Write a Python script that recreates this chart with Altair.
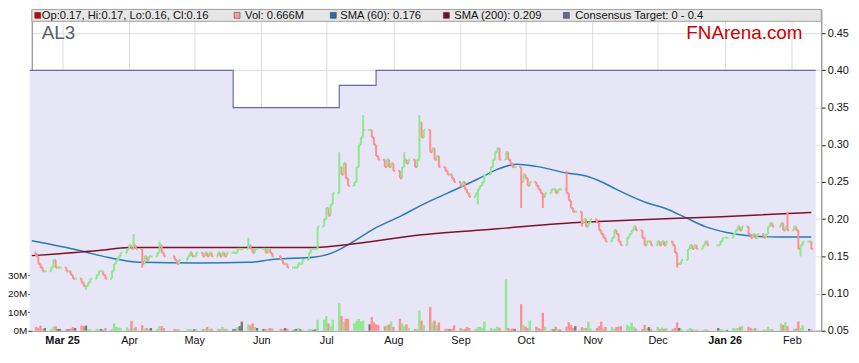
import altair as alt
import pandas as pd

# ---------------- data ----------------
HOLIDAYS = ["2025-04-18", "2025-04-21", "2025-04-25", "2025-06-09",
            "2025-12-25", "2025-12-26", "2026-01-01", "2026-01-26"]

FIRST_OPEN = 0.155
CLOSES = [
    0.15, 0.14, 0.135, 0.13, 0.13,
    0.135, 0.145, 0.135, 0.135, 0.135,
    0.13, 0.13, 0.125, 0.12, 0.12,
    0.115, 0.11, 0.11, 0.115, 0.12,
    0.125, 0.13, 0.13, 0.125, 0.12,
    0.13, 0.14, 0.145, 0.15, 0.155,
    0.16, 0.165, 0.16, 0.165, 0.16,
    0.14, 0.15, 0.145, 0.15, 0.15,
    0.155, 0.165, 0.155, 0.15,
    0.145, 0.14, 0.145,
    0.15, 0.155, 0.15, 0.15, 0.155,
    0.15, 0.155, 0.15, 0.155, 0.15,
    0.155, 0.15, 0.155, 0.15, 0.155,
    0.155, 0.155, 0.16, 0.16, 0.16,
    0.165, 0.16, 0.155, 0.16, 0.16,
    0.16, 0.155, 0.16, 0.155, 0.15,
    0.145, 0.14, 0.14, 0.135,
    0.135, 0.135, 0.14, 0.14, 0.145,
    0.155, 0.16, 0.16, 0.16, 0.19,
    0.2, 0.215, 0.205, 0.22, 0.235,
    0.27, 0.26, 0.275, 0.255, 0.245,
    0.25, 0.27, 0.30, 0.31, 0.32,
    0.32, 0.31, 0.30, 0.285, 0.28,
    0.27, 0.28, 0.27, 0.275, 0.265,
    0.255, 0.27, 0.28, 0.275, 0.28,
    0.27, 0.28, 0.33, 0.31, 0.32,
    0.29, 0.295, 0.28, 0.285, 0.27,
    0.265, 0.26, 0.26, 0.255, 0.25,
    0.245, 0.25, 0.24, 0.235, 0.23,
    0.235, 0.24, 0.245, 0.25, 0.26,
    0.27, 0.28, 0.29, 0.295, 0.28,
    0.29, 0.28, 0.275, 0.27, 0.27,
    0.25, 0.26, 0.255, 0.245, 0.25,
    0.245, 0.24, 0.235, 0.23, 0.235,
    0.24, 0.24, 0.235, 0.24, 0.24,
    0.235, 0.225, 0.215, 0.21, 0.21,
    0.195, 0.2, 0.19, 0.195, 0.2,
    0.195, 0.185, 0.18, 0.175, 0.17,
    0.175, 0.185, 0.18, 0.17, 0.165,
    0.175, 0.18, 0.185, 0.19, 0.185,
    0.175, 0.165, 0.17, 0.17, 0.165,
    0.17, 0.165, 0.17, 0.165, 0.17,
    0.165, 0.155, 0.14, 0.14, 0.145,
    0.16, 0.165, 0.16, 0.165, 0.16,
    0.165, 0.17, 0.165,
    0.165, 0.17, 0.175, 0.175,
    0.18, 0.185, 0.19, 0.185, 0.19,
    0.18, 0.175, 0.18, 0.175, 0.18,
    0.175, 0.18, 0.19, 0.195, 0.19,
    0.195, 0.185, 0.19, 0.185,
    0.19, 0.185, 0.16, 0.165, 0.17,
    0.17, 0.16,
]

# volume in millions of shares
VOLUMES = [
    2.0, 1.5, 2.8, 0.8, 1.5,
    1.0, 2.2, 2.5, 1.0, 1.0,
    1.0, 0.8, 1.2, 2.0, 1.5,
    2.8, 2.5, 2.8, 1.0, 0.8,
    1.0, 0.8, 1.0, 0.5, 1.5,
    1.0, 4.0, 2.0, 1.8, 1.5,
    1.8, 1.0, 5.4, 1.5, 2.0,
    3.0, 1.0, 1.5, 1.0, 1.5,
    1.0, 2.5, 2.5, 1.5,
    1.0, 0.8, 0.8,
    0.8, 1.0, 0.5, 0.8, 1.0,
    1.0, 1.0, 2.0, 1.0, 1.2,
    1.0, 0.8, 2.0, 1.0, 1.0,
    0.8, 1.0, 2.0, 2.5, 5.0,
    3.5, 3.0, 4.0, 2.0, 1.5,
    1.0, 0.8, 1.0, 1.5, 1.2,
    1.0, 0.8, 1.5, 1.0,
    0.5, 1.0, 1.5, 0.8, 0.5,
    1.0, 0.8, 0.5, 0.8, 6.0,
    6.0, 8.0, 4.0, 2.5, 6.0,
    15.0, 8.0, 5.0, 6.5, 6.5,
    4.0, 5.5, 6.5, 5.0, 5.5,
    3.5, 7.5, 4.5, 3.5, 3.0,
    2.5, 3.0, 3.5, 5.0, 2.0,
    6.5, 4.0, 2.5, 3.5, 1.5,
    1.0, 1.0, 11.0, 5.5, 3.0,
    13.0, 4.5, 5.5, 3.0, 4.5,
    1.0, 1.0, 0.8, 1.0, 3.0,
    1.5, 0.8, 1.0, 2.0, 1.5,
    1.0, 2.0, 2.2, 1.5, 5.0,
    1.5, 0.8, 1.2, 2.2, 1.6,
    28.0, 1.5, 0.8, 1.2, 1.0,
    14.5, 3.2, 2.2, 1.5, 5.5,
    2.2, 1.5, 1.0, 9.7, 2.2,
    1.0, 0.8, 2.2, 1.0, 0.5,
    2.2, 4.7, 3.0, 1.5, 2.5,
    2.0, 1.5, 1.5, 5.0, 1.2,
    1.5, 2.5, 5.0, 1.0, 2.0,
    2.0, 1.0, 2.0, 2.2, 2.5,
    3.2, 2.2, 4.5, 2.2, 1.2,
    1.0, 3.2, 1.5, 2.0, 1.0,
    2.0, 1.0, 1.8, 1.0, 1.5,
    1.0, 1.5, 4.5, 1.5, 1.0,
    0.8, 1.5, 0.8, 0.5, 0.5,
    0.5, 0.8, 0.5,
    1.5, 1.0, 0.8, 0.5,
    1.5, 1.2, 1.5, 2.2, 2.5,
    2.2, 1.5, 1.0, 1.5, 0.8,
    0.5, 0.5, 2.2, 1.0, 0.8,
    4.0, 3.2, 4.7, 2.5,
    1.0, 1.2, 5.0, 1.5, 3.0,
    1.0, 0.666,
]

HIGH_WICKS = {"2025-04-03": 0.18, "2025-04-15": 0.17, "2025-05-26": 0.175,
              "2025-07-07": 0.29, "2025-07-18": 0.34, "2025-08-06": 0.29,
              "2025-08-13": 0.34, "2025-10-20": 0.265, "2026-01-30": 0.21}
LOW_WICKS = {"2025-03-12": 0.105, "2025-04-07": 0.135, "2025-09-09": 0.22,
             "2025-09-29": 0.215, "2025-10-09": 0.215, "2025-10-27": 0.19,
             "2025-12-10": 0.135, "2026-02-05": 0.15}

SMA60_DATES = ["2025-02-15", "2025-03-09", "2025-03-23", "2025-04-06", "2025-05-03",
               "2025-05-26", "2025-06-07", "2025-06-26", "2025-07-04", "2025-07-13",
               "2025-07-23", "2025-08-05", "2025-08-14", "2025-08-26", "2025-09-09",
               "2025-09-18", "2025-09-27", "2025-10-06", "2025-10-20", "2025-10-29",
               "2025-11-06", "2025-11-12", "2025-11-26", "2025-12-05", "2025-12-14",
               "2025-12-23", "2026-01-02", "2026-01-11", "2026-01-26", "2026-02-10"]
SMA60_VALUES = [0.171, 0.158, 0.148, 0.142, 0.141,
                0.142, 0.146, 0.149, 0.155, 0.169,
                0.187, 0.205, 0.219, 0.235, 0.254,
                0.267, 0.274, 0.271, 0.262, 0.258,
                0.249, 0.240, 0.222, 0.214, 0.202,
                0.190, 0.182, 0.178, 0.176, 0.176]

SMA200_DATES = ["2025-02-15", "2025-03-18", "2025-04-01", "2025-05-03", "2025-06-26",
                "2025-07-14", "2025-08-14", "2025-09-18", "2025-10-16", "2025-11-12",
                "2025-12-28", "2026-02-10"]
SMA200_VALUES = [0.151, 0.158, 0.162, 0.162, 0.162,
                 0.167, 0.179, 0.187, 0.194, 0.198,
                 0.203, 0.209]

TARGET_DATES = ["2025-02-14", "2025-05-19", "2025-07-07", "2025-07-24", "2026-02-12"]
TARGET_VALUES = [0.40, 0.35, 0.38, 0.40, 0.40]

PRICE_TICKS = [0.05, 0.10, 0.15, 0.20, 0.25, 0.30, 0.35, 0.40, 0.45]
VOL_TICKS = [0, 10, 20, 30]
MONTHS = [(2025, m) for m in range(3, 13)] + [(2026, 1), (2026, 2)]

HEADER_ITEMS = [
    ("Op:0.17, Hi:0.17, Lo:0.16, Cl:0.16", "#cc0000"),
    ("Vol: 0.666M", "#ff9999"),
    ("SMA (60): 0.176", "#1f6fb0"),
    ("SMA (200): 0.209", "#7a0a2a"),
    ("Consensus Target: 0 - 0.4", "#666699"),
]

# ---------------- tables ----------------
days = [d for d in pd.bdate_range("2025-02-17", "2026-02-10")
        if d.strftime("%Y-%m-%d") not in HOLIDAYS]
assert len(days) == len(CLOSES) == len(VOLUMES)
opens = [FIRST_OPEN] + CLOSES[:-1]
rows = []
for d, o, c, v in zip(days, opens, CLOSES, VOLUMES):
    k = d.strftime("%Y-%m-%d")
    hi = max(o, c, HIGH_WICKS.get(k, 0))
    lo = min(o, c, LOW_WICKS.get(k, 1))
    vdir = "up" if c > o else ("down" if c < o else "flat")
    rows.append({"date": d, "open": o, "close": c, "high": hi, "low": lo,
                 "vol": v, "vdir": vdir, "pdir": "down" if c < o else "up"})
ohlc = pd.DataFrame(rows)

sma60 = pd.DataFrame({"date": pd.to_datetime(SMA60_DATES), "v": SMA60_VALUES})
sma200 = pd.DataFrame({"date": pd.to_datetime(SMA200_DATES), "v": SMA200_VALUES})
target = pd.DataFrame({"date": pd.to_datetime(TARGET_DATES), "v": TARGET_VALUES})

# ---------------- scales ----------------
W, H = 796, 324
FONT = "Liberation Sans"
xscale = alt.Scale(domain=[alt.DateTime(year=2025, month=2, date=15),
                           alt.DateTime(year=2026, month=2, date=14, hours=14)])
pscale = alt.Scale(domain=[0.05, 0.482], nice=False, zero=False)
vscale = alt.Scale(domain=[0, 175], nice=False, zero=True)

BOLD_TEST = "month(datum.value)==0 || (month(datum.value)==2 && year(datum.value)==2025)"
xaxis = alt.Axis(
    values=[alt.DateTime(year=y, month=m, date=1) for y, m in MONTHS],
    labelExpr="(" + BOLD_TEST + ") ? timeFormat(datum.value, '%b %y') : timeFormat(datum.value, '%b')",
    labelFontWeight={"condition": {"test": BOLD_TEST, "value": "bold"}, "value": "normal"},
    grid=True, gridColor="#dcdcdc", ticks=False, labelPadding=4,
    domainColor="#999999", labelFontSize=11, labelColor="#111111", labelFont=FONT,
    title=None)
paxis = alt.Axis(orient="right", values=PRICE_TICKS, format=".2f", grid=True,
                 gridColor="#dcdcdc", tickSize=4, tickColor="#222222",
                 domainColor="#999999", labelFontSize=11, labelColor="#111111",
                 labelFont=FONT, title=None, labelPadding=2)
vaxis = alt.Axis(orient="left", values=VOL_TICKS, labelExpr="datum.value + 'M'",
                 grid=False, tickSize=4, tickColor="#222222", domainColor="#999999",
                 labelFontSize=10, labelColor="#111111", labelFont=FONT, title=None,
                 labelPadding=1)

X = alt.X("date:T", scale=xscale, axis=xaxis)

area = alt.Chart(target).mark_area(
    interpolate="step-after", color="#e6e6f6", opacity=1,
    line={"color": "#6a6aa8", "strokeWidth": 1.2}).encode(
    x=X, y=alt.Y("v:Q", scale=pscale, axis=paxis), y2=alt.datum(0.05))

vol = alt.Chart(ohlc).mark_rule(strokeWidth=2.4).encode(
    x=X, y=alt.Y("vol:Q", scale=vscale, axis=vaxis), y2=alt.datum(0),
    color=alt.Color("vdir:N", scale=alt.Scale(domain=["up", "down", "flat"],
                    range=["#8ee88e", "#ff9090", "#7a7a7a"]), legend=None))

Yp = lambda f: alt.Y(f, scale=pscale, axis=None)
pcolor = alt.Color("pdir:N", scale=alt.Scale(domain=["up", "down"],
                   range=["#007a00", "#d00000"]), legend=None)

l60 = alt.Chart(sma60).mark_line(interpolate="monotone", color="#2a7ab8",
                                 strokeWidth=1.5).encode(x=X, y=Yp("v:Q"))
l200 = alt.Chart(sma200).mark_line(interpolate="monotone", color="#80102a",
                                   strokeWidth=1.5).encode(x=X, y=Yp("v:Q"))
hl = alt.Chart(ohlc).mark_rule(strokeWidth=2).encode(
    x=X, y=Yp("low:Q"), y2="high:Q", color=pcolor)
op = alt.Chart(ohlc).mark_rule(strokeWidth=2, xOffset=-1.8, x2Offset=0).encode(
    x=X, x2="date:T", y=Yp("open:Q"), color=pcolor)
cl = alt.Chart(ohlc).mark_rule(strokeWidth=2, xOffset=0, x2Offset=1.8).encode(
    x=X, x2="date:T", y=Yp("close:Q"), color=pcolor)

price = alt.layer(l60, l200, hl, op, cl)

one = pd.DataFrame({"a": [0]})
header = [alt.Chart(one).mark_rect(color="#e6e6e6", stroke="#a0a0a0", strokeWidth=1).encode(
    x=alt.value(0), x2=alt.value(W), y=alt.value(0), y2=alt.value(12))]
sq_x = [3, 204, 301, 415, 536]
tx_x = [10, 215, 311, 426, 548]
for (txt, col), sx, tx in zip(HEADER_ITEMS, sq_x, tx_x):
    header.append(alt.Chart(one).mark_rect(color=col, stroke="#333333", strokeWidth=0.5).encode(
        x=alt.value(sx), x2=alt.value(sx + 6), y=alt.value(3), y2=alt.value(9)))
    header.append(alt.Chart(one).mark_text(text=txt, align="left", baseline="middle",
                                           font=FONT, fontSize=11.3, color="#111111").encode(
        x=alt.value(tx), y=alt.value(6.5)))
header.append(alt.Chart(one).mark_text(text="AL3", align="left", baseline="middle",
                                       font=FONT, fontSize=19, color="#56606a").encode(
    x=alt.value(10), y=alt.value(24)))
header.append(alt.Chart(one).mark_text(text="FNArena.com", align="left", baseline="middle",
                                       font=FONT, fontSize=19, color="#cc0000").encode(
    x=alt.value(660), y=alt.value(24)))

chart = alt.layer(area, vol, price, *header).resolve_scale(y="independent").properties(
    width=W, height=H,
    autosize=alt.AutoSizeParams(type="none"),
    padding={"left": 24, "top": 0, "right": 30, "bottom": 20},
).configure_view(stroke="#a0a0a0", strokeWidth=1)

chart.save("out.html", embed_options={"renderer": "svg", "actions": False})
